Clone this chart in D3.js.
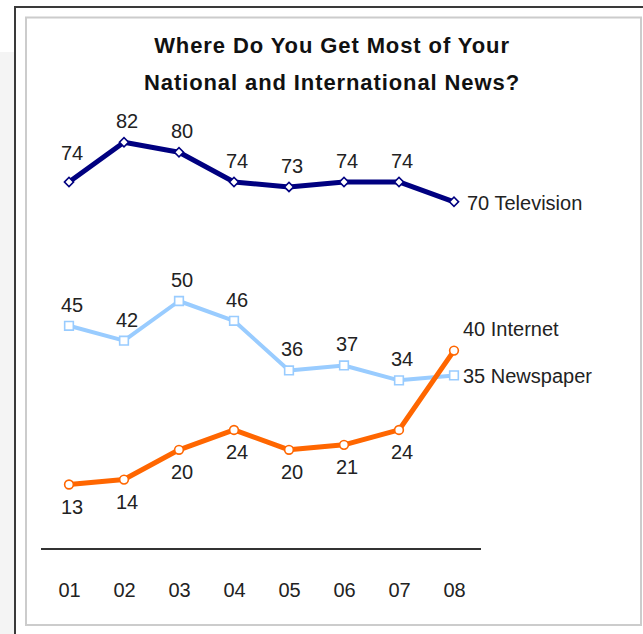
<!DOCTYPE html>
<html>
<head>
<meta charset="utf-8">
<script src="https://cdn.jsdelivr.net/npm/d3@7"></script>
<style>
  body { margin: 0; background: #fff; }
  svg { display: block; }
</style>
</head>
<body>
<script>
// data
const years = ["01", "02", "03", "04", "05", "06", "07", "08"];
const television = [74, 82, 80, 74, 73, 74, 74, 70];
const internet = [13, 14, 20, 24, 20, 21, 24, 40];
const newspaper = [45, 42, 50, 46, 36, 37, 34, 35];
const titleLines = ["Where Do You Get Most of Your", "National and International News?"];

const width = 643, height = 634;

const series = [
  {name: "Television", values: television, color: "#000080", symbol: d3.symbolSquare, size: 42, rot: 45, label: "above", lw: 5},
  {name: "Newspaper", values: newspaper, color: "#99ccff", symbol: d3.symbolSquare, size: 75, rot: 0, label: "above", lw: 4},
  {name: "Internet", values: internet, color: "#ff6600", symbol: d3.symbolCircle, size: 60, rot: 0, label: "below", lw: 5}
];

const x = d3.scalePoint().domain(years).range([69, 454]);
const y = d3.scaleLinear().domain([0, 100]).range([549, 53]);

const svg = d3.select("body").append("svg")
    .attr("width", width)
    .attr("height", height)
    .attr("font-family", "'Liberation Sans', Arial, sans-serif");

// frame
svg.append("rect").attr("x", 0).attr("y", 52).attr("width", 14).attr("height", height - 52).attr("fill", "#f4f4f4");
svg.append("path")
    .attr("d", `M15,${height}V7H${width}`)
    .attr("fill", "none")
    .attr("stroke", "#3a3a3a")
    .attr("stroke-width", 2);
svg.append("rect")
    .attr("x", 26).attr("y", 17.5)
    .attr("width", 615).attr("height", 607.5)
    .attr("fill", "#fff")
    .attr("stroke", "#cccccc")
    .attr("stroke-width", 2);

// title
svg.append("text")
    .attr("text-anchor", "middle")
    .attr("font-size", 22)
    .attr("font-weight", "bold")
    .attr("letter-spacing", 0.9)
    .attr("fill", "#111")
  .selectAll("tspan")
  .data(titleLines)
  .join("tspan")
    .attr("x", 332)
    .attr("y", (d, i) => 53 + i * 37)
    .text(d => d);

// x axis: plain baseline and year labels
svg.append("line")
    .attr("x1", 41).attr("x2", 481)
    .attr("y1", y(0)).attr("y2", y(0))
    .attr("stroke", "#333")
    .attr("stroke-width", 2);

svg.append("g")
    .attr("transform", `translate(0,${y(0)})`)
    .call(d3.axisBottom(x).tickSize(0).tickPadding(34))
    .call(g => g.select(".domain").remove())
    .call(g => g.selectAll("text")
        .attr("font-size", 20)
        .attr("font-family", "'Liberation Sans', Arial, sans-serif")
        .attr("fill", "#222"));

const line = d3.line()
    .x((d, i) => x(years[i]))
    .y(d => y(d));

const last = years.length - 1;

for (const s of series) {
  const g = svg.append("g");

  g.append("path")
      .attr("d", line(s.values))
      .attr("fill", "none")
      .attr("stroke", s.color)
      .attr("stroke-width", s.lw)
      .attr("stroke-linejoin", "round");

  g.selectAll("path.mark")
    .data(s.values)
    .join("path")
      .attr("class", "mark")
      .attr("transform", (d, i) => `translate(${x(years[i])},${y(d)}) rotate(${s.rot})`)
      .attr("d", d3.symbol(s.symbol, s.size))
      .attr("fill", "#fff")
      .attr("stroke", s.color)
      .attr("stroke-width", 1.6);

  // point labels, except last which gets the series name
  g.selectAll("text.val")
    .data(s.values.slice(0, last))
    .join("text")
      .attr("class", "val")
      .attr("x", (d, i) => x(years[i]) + 3)
      .attr("y", (d, i) => y(d) + (s.label === "above" ? (i === 0 && s.name === "Television" ? -22 : -14) : 29))
      .attr("text-anchor", "middle")
      .attr("font-size", 20)
      .attr("fill", "#222")
      .text(d => d);

  const lv = s.values[last];
  g.append("text")
      .attr("x", x(years[last]) + (s.name === "Television" ? 13 : 9))
      .attr("y", y(lv) + (s.name === "Internet" ? -15 : 8))
      .attr("font-size", 20)
      .attr("fill", "#222")
      .text(`${lv} ${s.name}`);
}
</script>
</body>
</html>
